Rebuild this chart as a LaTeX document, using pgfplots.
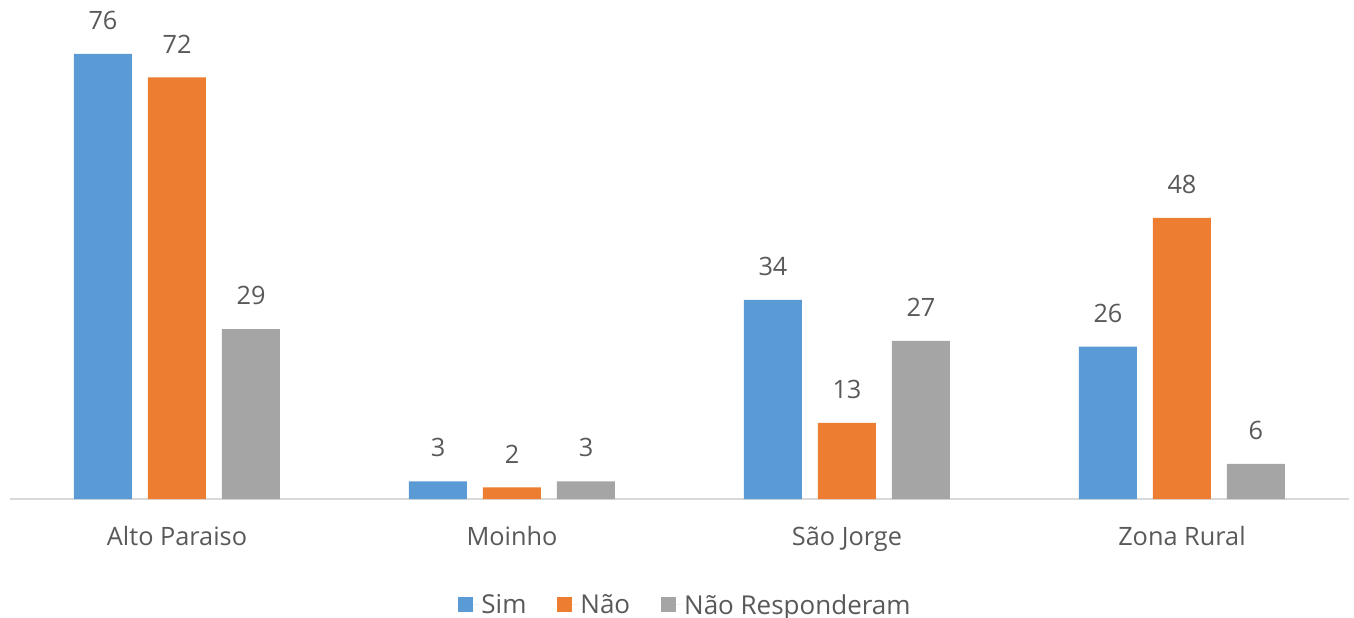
\documentclass[border=0pt]{standalone}
\usepackage{pgfplots}
\pgfplotsset{compat=1.18}
\usepackage{fontspec}
\setmainfont{Open Sans}
\definecolor{cblue}{HTML}{5B9BD5}
\definecolor{corange}{HTML}{ED7D31}
\definecolor{cgray}{HTML}{A5A5A5}
\definecolor{ctext}{HTML}{595959}
\definecolor{caxis}{HTML}{D9D9D9}
\begin{document}
\begin{tikzpicture}
\useasboundingbox (-9.5bp,-119bp) rectangle (1344.5bp,499bp);
\begin{axis}[
  scale only axis,
  width=1340bp, height=499bp,
  xmin=-0.5, xmax=3.5, ymin=0, ymax=85.2,
  ybar=16bp, bar width=58bp,
  axis y line=none,
  axis x line*=bottom,
  x axis line style={draw=caxis, line width=1.5bp, -},
  xtick={0,1,2,3},
  xticklabels={Alto Paraiso, Moinho, São Jorge, Zona Rural},
  major tick length=0pt,
  xtick style={draw=none},
  xticklabel style={font=\fontsize{25.3bp}{30bp}\selectfont, text=ctext, anchor=north, inner sep=0pt, yshift=-27.5bp},
  /pgf/number format/assume math mode=true,
  nodes near coords,
  every node near coord/.append style={font=\fontsize{25.3bp}{30bp}\selectfont, text=ctext, anchor=south, inner sep=0pt, yshift=24bp},
  legend columns=3,
  legend style={at={(0.5045,-0.2124)}, anchor=center, draw=none, font=\fontsize{26bp}{30bp}\selectfont, text=ctext,
    /tikz/every even column/.append style={column sep=29bp}},
  legend image code/.code={\fill[#1, draw=none] (0bp,-7.5bp) rectangle (15bp,7.5bp); \path (0bp,0bp) -- (21bp,0bp);},
  clip=false,
]
\addplot[fill=cblue, draw=none] coordinates {(0,76) (1,3) (2,34) (3,26)};
\addplot[fill=corange, draw=none] coordinates {(0,72) (1,2) (2,13) (3,48)};
\addplot[fill=cgray, draw=none] coordinates {(0,29) (1,3) (2,27) (3,6)};
\legend{Sim, Não, Não Responderam}
\end{axis}
\end{tikzpicture}
\end{document}
